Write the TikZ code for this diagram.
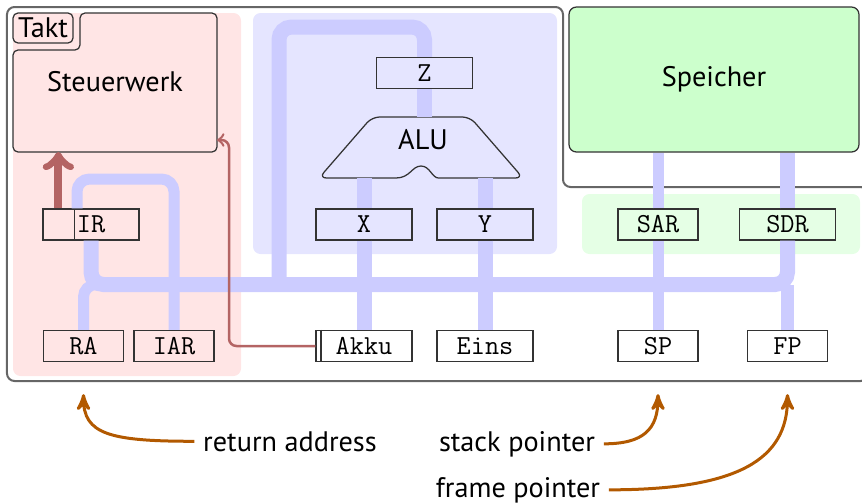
\documentclass[tikz,border=0pt]{standalone}
\usepackage{fontspec}
\setmainfont{PT Sans}
\usepackage{tikz}
\usetikzlibrary{arrows,positioning,calc}
\definecolor{ctrl}{RGB}{180,100,100}
\tikzset{
    %Define standard arrow tip
    >=stealth',
    %Define style for registers
    reg/.style={
           draw=black!80,
           line width=0.5pt,
           inner sep=0pt,
           minimum width=38.4pt,
           minimum height=12.4pt,
           font=\ttfamily\fontsize{11}{13}\selectfont},
    sreg/.style={
           reg,
           minimum width=32pt},
    % Define bus styles
    databus/.style={
           draw=blue!20,
           line width=6pt,
           rounded corners=5pt},
    addrbus/.style={
           draw=blue!20,
           line width=4.4pt,
           rounded corners=5pt},
    % Define arrow styles
    ctl/.style={
           -to,
           draw=ctrl},
    note/.style={
           ->,
           draw=orange!70!black,
           line width=1.2pt}
}

\begin{document}
\begin{tikzpicture}[x=0.4pt, y=-0.4pt, node distance=48.6pt, font=\fontsize{11.3}{13.5}\selectfont]
	% Styles
	\tikzstyle{area} = [rounded corners=3pt]
	\tikzstyle{unit} = [draw=black!80, line width=0.5pt, rounded corners=2pt]

	\useasboundingbox (0,0) rectangle (862,503);

	% Areas
	\fill[area, red!10] (13,13) rectangle (241,376);
	\fill[area, blue!10] (253,13) rectangle (557,254);
	\fill[area, green!10] (582,194) rectangle (860,254);
	\draw[black!60, line width=0.8pt, rounded corners=3pt]
	      (7,7) -- (563,7) -- (563,187) -- (868,187) -- (868,381) -- (7,381) -- cycle;

	% Memory
	\node[unit, fill=green!20, rounded corners=3pt, minimum width=116pt, minimum height=58pt] (mem) at (714,79.5) {Speicher};

	% Control unit
	\draw[unit, fill=red!10] (13,50) -- (80,50) -- (80,13) -- (217,13) -- (217,152) -- (13,152) -- cycle;
	\node[unit, minimum width=24pt, minimum height=12pt, inner sep=0pt] (takt) at (43,28) {Takt};
	\node (sw) at (115,82) {Steuerwerk};
	\coordinate (swbot) at (13,152);
	\coordinate (swin) at (217,140);

	% ALU
	\draw[unit, rounded corners=3pt] (319,178) -- (372,117) -- (470,117) -- (523,178) -- (446,178)
	      [sharp corners] .. controls (432,178) and (430,166) .. (421,166)
	      .. controls (412,166) and (410,178) .. (396,178) [rounded corners=3pt] -- cycle;
	\node (alu) at (423,140) {ALU};
	\coordinate (alutop) at (424.5,117);
	\coordinate (alux) at (364,178);
	\coordinate (aluy) at (485,178);

	% Registers
	\node[reg] (z) at (424.5,73) {Z};
	\node[reg] (xr) at (364,224.5) {X};
	\node[reg] (yr) at (485,224.5) {Y};
	\node[reg, below of=xr] (akku) {Akku};
	\node[reg, below of=yr] (eins) {Eins};
	\node[reg] (ir) at (91,224.5) {IR};
	\node[sreg] (ra) at (83.5,346) {RA};
	\node[sreg] (iar) at (174,346) {IAR};
	\node[sreg] (sar) at (658,224.5) {SAR};
	\node[sreg, below of=sar] (sp) {SP};
	\node[reg] (sdr) at (787.5,224.5) {SDR};
	\node[sreg, below of=sdr] (fp) {FP};
	\draw[black!80, line width=0.5pt] ([xshift=12.8pt]ir.north west) -- ([xshift=12.8pt]ir.south west);
	\draw[black!80, line width=0.5pt] ([xshift=2.2pt]akku.north west) -- ([xshift=2.2pt]akku.south west);

	% Buses
	\coordinate (bus) at (0,284.5);
	\coordinate (zloop) at (279,27);
	\coordinate (iarloop) at (77,179);
	\draw[addrbus] (ra.north) |- (bus -| sp.north);
	\draw[databus] (ir.south) |- (bus -| sdr.south) -- (sdr.south);
	\draw[databus] (sdr.north) -- (sdr.north |- mem.south);
	\draw[databus] (z.north) |- (zloop) -- (zloop |- bus);
	\draw[databus] (z.south) -- (alutop);
	\draw[databus] (alux) -- (xr.north);
	\draw[databus] (aluy) -- (yr.north);
	\draw[databus] (xr.south) -- (akku.north);
	\draw[databus] (yr.south) -- (eins.north);
	\draw[addrbus] (sp.north) -- (sar.south);
	\draw[addrbus] (sar.north) -- (sar.north |- mem.south);
	\draw[addrbus, line width=5pt] (fp.north) -- (fp.north |- bus);
	\draw[addrbus] (iar.north) |- (iarloop) -- (iarloop |- ir.north);

	% Control lines
	\coordinate (irop) at ([xshift=6.4pt]ir.north west);
	\coordinate (ctlbend) at (229,0);
	\draw[ctl, line width=3.2pt] (irop) -- (irop |- swbot);
	\draw[ctl, line width=1pt, rounded corners=3pt] (akku.west) -| (ctlbend |- swin) -- (swin);

	% Notes
	\node[anchor=base] (ret) at (290,451) {return address};
	\node[anchor=base] (stk) at (517,451) {stack pointer};
	\node[anchor=base] (frm) at (518,497) {frame pointer};
	\coordinate (rapt) at ($(ra.south)+(0,32)$);
	\coordinate (sppt) at ($(sp.south)+(0,32)$);
	\coordinate (fppt) at ($(fp.south)+(0,32)$);
	\draw[note] (ret.west) .. controls +(-85,0) and +(0,40) .. (rapt);
	\draw[note] (stk.east) .. controls +(40,0) and +(0,35) .. (sppt);
	\draw[note] (frm.east) .. controls +(130,0) and +(0,65) .. (fppt);
\end{tikzpicture}
\end{document}
